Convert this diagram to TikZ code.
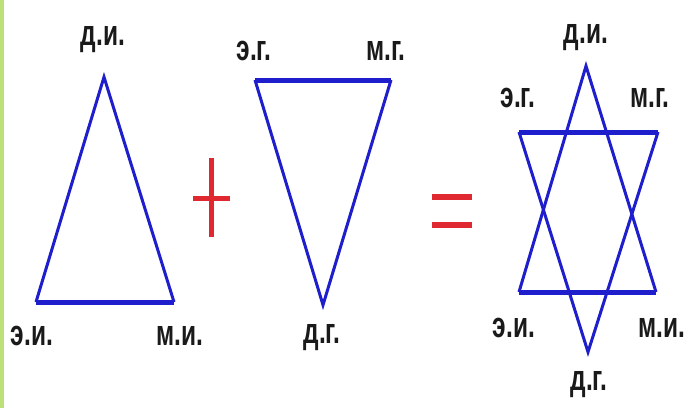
\documentclass[tikz,border=0pt]{standalone}
\usepackage{fontspec}
\setmainfont{Liberation Sans}
\newfontfamily\lblfont{Liberation Sans}[FakeStretch=0.68]
\definecolor{stblue}{HTML}{1E1ECC}
\definecolor{stred}{HTML}{E02830}
\definecolor{stgreen}{HTML}{BDE07A}
\definecolor{sttext}{HTML}{1A1A1A}

\begin{document}
\begin{tikzpicture}[
  x=1pt, y=-1pt,
  lbl/.style={font=\lblfont\fontsize{36}{36}\selectfont\bfseries,
    text=sttext, anchor=base, inner sep=0pt},
  side/.style={stblue, line width=3pt},
  base/.style={stblue, line width=5pt},
  sign/.style={stred, line width=5pt},
]
  \useasboundingbox (0,0) rectangle (690,408);
  \fill[stgreen] (0,0) rectangle (3.5,408);

  %% ---- First triangle ----
  \coordinate (di1) at (104,77);
  \coordinate (ei1) at (36,302);
  \coordinate (mi1) at (174,302);
  \draw[side] (ei1) -- (di1) -- (mi1);
  \draw[base] (ei1) -- (mi1);
  \node[lbl] (tdi1) at (103,45)  {д.и.};
  \node[lbl] (tei1) at (32,345)  {э.и.};
  \node[lbl] (tmi1) at (180,345) {м.и.};

  %% ---- Plus ----
  \draw[sign] (211,158) -- (211,237);
  \draw[sign] (193,198) -- (230,198);

  %% ---- Second triangle ----
  \coordinate (eg2) at (255,80);
  \coordinate (mg2) at (391,80);
  \coordinate (dg2) at (323,305);
  \draw[side] (eg2) -- (dg2) -- (mg2);
  \draw[base] (eg2) -- (mg2);
  \node[lbl] (teg2) at (254,60)  {э.г.};
  \node[lbl] (tmg2) at (386,60)  {м.г.};
  \node[lbl] (tdg2) at (322,343) {д.г.};

  %% ---- Equals ----
  \draw[sign, line width=6pt] (432,197) -- (472,197);
  \draw[sign, line width=6pt] (432,225) -- (472,225);

  %% ---- Star ----
  \coordinate (di3) at (586,66);
  \coordinate (ei3) at (519,292);
  \coordinate (mi3) at (656,292);
  \coordinate (eg3) at (519,132);
  \coordinate (mg3) at (658,132);
  \coordinate (dg3) at (588,352);
  \draw[side] (ei3) -- (di3) -- (mi3);
  \draw[side] (eg3) -- (dg3) -- (mg3);
  \draw[base] (ei3) -- (mi3);
  \draw[base] (eg3) -- (mg3);
  \node[lbl] (tdi3) at (586,43)  {д.и.};
  \node[lbl] (teg3) at (518,107) {э.г.};
  \node[lbl] (tmg3) at (650,107) {м.г.};
  \node[lbl] (tei3) at (514,337) {э.и.};
  \node[lbl] (tmi3) at (662,337) {м.и.};
  \node[lbl] (tdg3) at (589,390) {д.г.};

\end{tikzpicture}
\end{document}
